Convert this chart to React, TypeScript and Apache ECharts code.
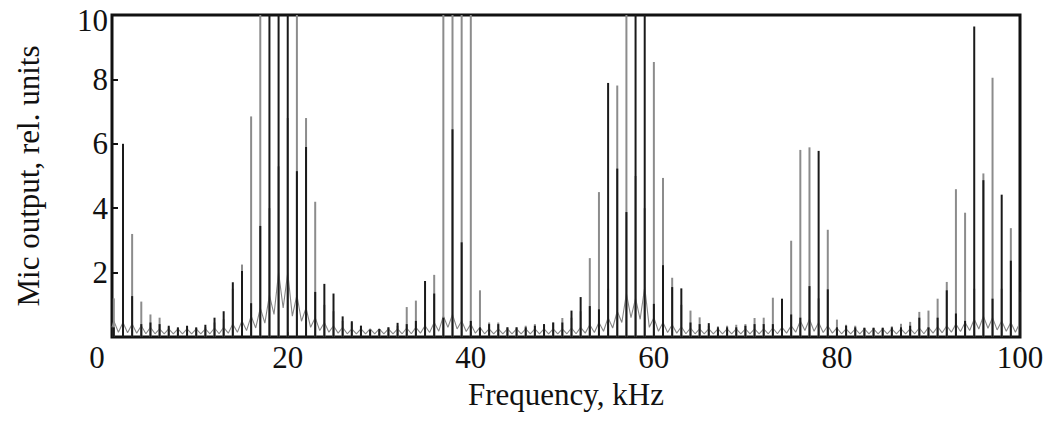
import React, { useEffect, useRef } from "react";
import * as echarts from "echarts";

// Harmonic frequencies (kHz) of the spikes
const harmonics: number[] = Array.from({ length: 100 }, (_, i) => i + 1);

// Gray-trace spike heights (rel. units), one per harmonic 1..100 (12 = off scale)
const grayPeaks: number[] = [
  1.2, 0.6, 3.2, 1.1, 0.7, 0.6, 0.3, 0.28, 0.3, 0.28,
  0.3, 0.45, 0.55, 1.5, 2.25, 6.85, 12, 4, 5.3, 6.8,
  12, 6.8, 4.2, 1.0, 0.8, 0.5, 0.45, 0.35, 0.25, 0.25,
  0.3, 0.35, 0.93, 1.13, 0.8, 1.93, 12, 12, 12, 12,
  1.45, 0.45, 0.45, 0.3, 0.3, 0.35, 0.4, 0.4, 0.45, 0.59,
  0.6, 0.8, 2.45, 4.5, 1.5, 7.81, 12, 5, 4, 8.54,
  4.94, 1.84, 1.0, 0.82, 0.61, 0.35, 0.33, 0.35, 0.38, 0.4,
  0.59, 0.6, 1.22, 0.8, 2.99, 5.81, 5.89, 1.2, 3.33, 0.54,
  0.38, 0.35, 0.3, 0.3, 0.3, 0.33, 0.41, 0.47, 0.78, 0.82,
  1.19, 1.71, 4.59, 3.86, 1.5, 5.08, 8.05, 1.5, 3.38, 0.8,
];

// Black-trace spike heights (rel. units), one per harmonic 1..100
const blackPeaks: number[] = [
  0.3, 6.0, 1.27, 0.4, 0.45, 0.4, 0.35, 0.3, 0.35, 0.3,
  0.38, 0.6, 0.8, 1.7, 2.05, 1.05, 3.45, 12, 12, 12,
  5.15, 5.9, 1.4, 1.65, 1.35, 0.64, 0.49, 0.35, 0.23, 0.25,
  0.3, 0.44, 0.4, 0.5, 1.74, 1.35, 0.6, 6.45, 2.94, 0.5,
  0.3, 0.4, 0.4, 0.3, 0.3, 0.3, 0.35, 0.4, 0.45, 0.45,
  0.82, 1.24, 0.96, 0.86, 7.89, 5.23, 3.88, 12, 12, 1.03,
  2.23, 1.55, 1.51, 0.45, 0.4, 0.43, 0.3, 0.3, 0.3, 0.35,
  0.4, 0.4, 0.4, 1.19, 0.7, 0.6, 1.58, 5.78, 1.48, 0.3,
  0.35, 0.3, 0.28, 0.28, 0.28, 0.3, 0.3, 0.35, 0.6, 0.3,
  0.6, 1.45, 0.73, 0.5, 9.64, 4.87, 1.19, 4.42, 2.37, 1.4,
];

// Background response curve: level under each spike (at 1..100 kHz)
const baseCusps: number[] = [
  0.5, 0.45, 0.4, 0.35, 0.3, 0.25, 0.25, 0.25, 0.25, 0.25,
  0.25, 0.28, 0.3, 0.4, 0.5, 0.65, 0.9, 1.3, 2.0, 2.0,
  1.3, 0.9, 0.6, 0.45, 0.35, 0.3, 0.25, 0.25, 0.25, 0.25,
  0.25, 0.25, 0.28, 0.3, 0.35, 0.45, 0.65, 0.7, 0.5, 0.4,
  0.3, 0.25, 0.25, 0.25, 0.25, 0.25, 0.25, 0.25, 0.25, 0.25,
  0.28, 0.3, 0.38, 0.45, 0.6, 0.8, 1.35, 1.2, 1.55, 0.6,
  0.45, 0.38, 0.32, 0.28, 0.25, 0.25, 0.25, 0.25, 0.25, 0.25,
  0.25, 0.25, 0.28, 0.3, 0.35, 0.5, 0.55, 0.45, 0.35, 0.28,
  0.25, 0.25, 0.25, 0.25, 0.25, 0.25, 0.25, 0.25, 0.28, 0.3,
  0.32, 0.35, 0.4, 0.45, 0.55, 0.65, 0.6, 0.5, 0.45, 0.45,
];

// Background curve troughs: at 0.8 kHz, then between spikes (1.5, 2.5, ... 99.5 kHz)
const troughFreqs: number[] = [0.8, ...Array.from({ length: 99 }, (_, i) => i + 1.5)];
const baseTroughs: number[] = [
  0.3, 0.15, 0.13, 0.12, 0.1, 0.1, 0.1, 0.1, 0.1, 0.1,
  0.1, 0.1, 0.1, 0.12, 0.15, 0.2, 0.28, 0.43, 0.7, 0.9,
  0.65, 0.49, 0.3, 0.2, 0.15, 0.12, 0.1, 0.1, 0.1, 0.1,
  0.1, 0.1, 0.1, 0.1, 0.12, 0.14, 0.18, 0.3, 0.25, 0.17,
  0.12, 0.1, 0.1, 0.1, 0.1, 0.1, 0.1, 0.1, 0.1, 0.1,
  0.1, 0.1, 0.12, 0.14, 0.18, 0.28, 0.45, 0.6, 0.55, 0.3,
  0.18, 0.14, 0.12, 0.1, 0.1, 0.1, 0.1, 0.1, 0.1, 0.1,
  0.1, 0.1, 0.1, 0.1, 0.12, 0.15, 0.2, 0.18, 0.14, 0.12,
  0.1, 0.1, 0.1, 0.1, 0.1, 0.1, 0.1, 0.1, 0.1, 0.1,
  0.12, 0.13, 0.15, 0.17, 0.2, 0.25, 0.27, 0.22, 0.18, 0.15,
];

const xTickLabels: number[] = [0, 20, 40, 60, 80, 100];
const X_MIN = 0.8;

const FONT = "'Liberation Serif', 'Times New Roman', serif";

export default function App() {
  const ref = useRef<HTMLDivElement>(null);

  useEffect(() => {
    if (!ref.current) return;
    const chart = echarts.init(ref.current, undefined, { renderer: "svg" });

    const baseline: [number, number][] = [];
    for (let i = 0; i < harmonics.length; i++) {
      baseline.push([troughFreqs[i], baseTroughs[i]]);
      baseline.push([harmonics[i], baseCusps[i]]);
    }

    chart.setOption({
      animation: false,
      backgroundColor: "#ffffff",
      grid: {
        left: 112,
        right: 1057 - 1020,
        top: 15,
        bottom: 421 - 337,
        show: true,
        borderColor: "#111",
        borderWidth: 3,
        backgroundColor: "transparent",
      },
      xAxis: {
        type: "value",
        min: X_MIN,
        max: 100,
        name: "Frequency, kHz",
        nameLocation: "middle",
        nameGap: 42,
        nameTextStyle: { fontFamily: FONT, fontSize: 31, color: "#111" },
        axisLine: { show: false },
        splitLine: { show: false },
        axisTick: {
          show: true,
          inside: true,
          length: 5,
          lineStyle: { color: "#111", width: 2 },
          customValues: [20, 40, 60, 80],
        },
        axisLabel: {
          customValues: xTickLabels.map((v) => (v === 0 ? X_MIN : v)),
          formatter: (v: number) => (v < 1 ? "{z|0}" : String(Math.round(v))),
          fontFamily: FONT,
          fontSize: 31,
          color: "#111",
          margin: 5,
          rich: {
            z: { fontFamily: FONT, fontSize: 31, color: "#111", padding: [0, 30, 0, 0] },
          },
        },
      },
      yAxis: {
        type: "value",
        min: 0,
        max: 10,
        interval: 2,
        name: "Mic output, rel. units",
        nameLocation: "middle",
        nameGap: 68,
        nameTextStyle: { fontFamily: FONT, fontSize: 31, color: "#111" },
        axisLine: { show: false },
        splitLine: { show: false },
        axisTick: {
          show: true,
          inside: true,
          length: 6,
          lineStyle: { color: "#111", width: 2 },
        },
        axisLabel: {
          showMinLabel: false,
          formatter: (v: number) => (v === 10 ? "{t|10}" : String(v)),
          fontFamily: FONT,
          fontSize: 31,
          color: "#111",
          margin: 4,
          rich: {
            t: { fontFamily: FONT, fontSize: 31, color: "#111", padding: [10, 0, 0, 0] },
          },
        },
      },
      series: [
        {
          type: "line",
          name: "background",
          data: baseline,
          showSymbol: false,
          symbol: "none",
          lineStyle: { color: "#858585", width: 1.1 },
          z: 1,
          clip: true,
        },
        {
          type: "bar",
          name: "gray",
          data: harmonics.map((f, i) => [f, grayPeaks[i]]),
          barWidth: 2,
          barGap: "-100%",
          itemStyle: { color: "#8c8c8c" },
          z: 2,
          clip: true,
        },
        {
          type: "bar",
          name: "black",
          data: harmonics.map((f, i) => [f, blackPeaks[i]]),
          barWidth: 2,
          barGap: "-100%",
          itemStyle: { color: "#1a1a1a" },
          z: 3,
          clip: true,
        },
      ],
    });

    return () => chart.dispose();
  }, []);

  return (
    <div
      ref={ref}
      style={{ position: "fixed", left: 0, top: 0, width: 1057, height: 421, background: "#fff" }}
    />
  );
}
